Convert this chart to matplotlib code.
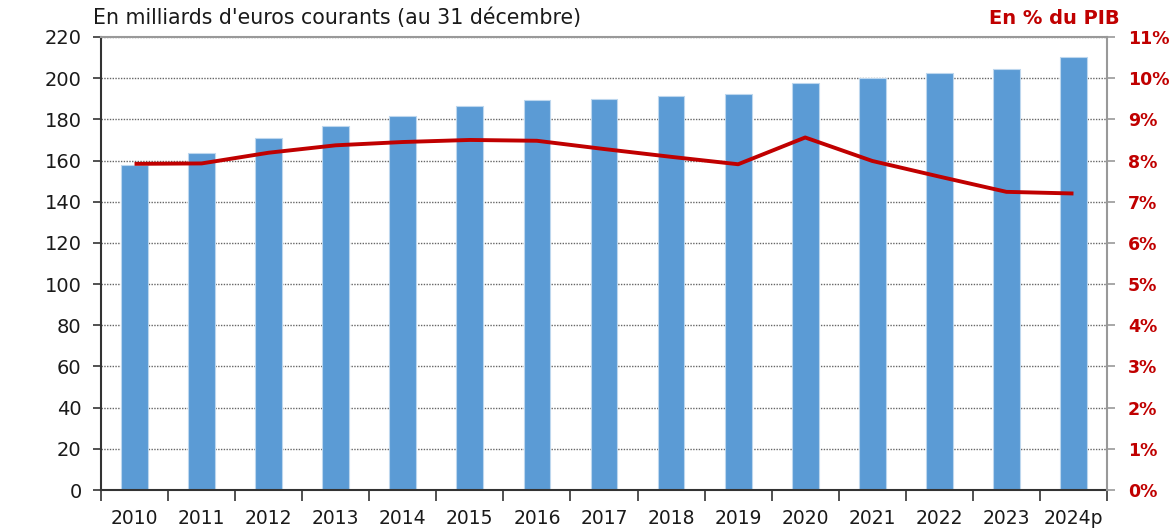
import matplotlib
matplotlib.use("Agg")
import matplotlib.pyplot as plt
import numpy as np
from matplotlib.ticker import FixedLocator, FuncFormatter

years = ["2010", "2011", "2012", "2013", "2014", "2015", "2016", "2017",
         "2018", "2019", "2020", "2021", "2022", "2023", "2024p"]
encours = [157.8, 163.6, 171.1, 176.9, 181.5, 186.5, 189.3, 190.0,
           191.4, 192.3, 197.5, 200.1, 202.4, 204.6, 210.4]
pct_pib = [7.92, 7.93, 8.19, 8.37, 8.45, 8.50, 8.48, 8.28,
           8.09, 7.91, 8.56, 7.99, 7.61, 7.24, 7.20]

plt.rcParams['font.family'] = ['DejaVu Sans']

fig = plt.figure(figsize=(11.7, 5.28), dpi=100)
ax = fig.add_axes([101/1170, 38/528, 1006/1170, 453/528])
x = np.arange(len(years))

ax.bar(x, encours, width=0.40, color="#5B9BD5", edgecolor="#BDD7EE",
       linewidth=0.8, zorder=2)
ax.set_xlim(-0.5, len(years) - 0.5)
ax.set_ylim(0, 220)
ax.set_yticks(np.arange(0, 221, 20))
ax.yaxis.grid(True, linestyle=(0, (1.0, 1.0)), color="#666666", linewidth=1.0, zorder=1)
ax.set_axisbelow(True)

ax.set_xticks(x)
ax.set_xticklabels(years, fontsize=13.5, color="#1a1a1a")
ax.tick_params(axis='x', which='major', length=0, pad=14)
ax.xaxis.set_minor_locator(FixedLocator(np.arange(-0.5, len(years), 1.0)))
ax.tick_params(axis='x', which='minor', length=8, width=1.2, color="#333333")
ax.tick_params(axis='y', labelsize=14, length=6, width=1.2, color="#333333",
               labelcolor="#1a1a1a", pad=8)

for s in ["left", "bottom"]:
    ax.spines[s].set_color("#333333")
    ax.spines[s].set_linewidth(1.5)
ax.spines["top"].set_color("#999999")
ax.spines["top"].set_linewidth(1.5)
ax.spines["right"].set_visible(False)

ax2 = ax.twinx()
ax2.plot(x, pct_pib, color="#C00000", linewidth=2.8, solid_capstyle='butt', zorder=3)
ax2.set_ylim(0, 11)
ax2.set_yticks(np.arange(0, 12, 1))
ax2.yaxis.set_major_formatter(FuncFormatter(lambda v, p: f"{int(v)}%"))
ax2.tick_params(axis='y', labelsize=12.5, length=6, width=1.2, color="#999999",
                labelcolor="#C00000", pad=9)
for lab in ax2.get_yticklabels():
    lab.set_fontweight("bold")
for s in ["left", "bottom", "top"]:
    ax2.spines[s].set_visible(False)
ax2.spines["right"].set_color("#999999")
ax2.spines["right"].set_linewidth(1.5)

fig.text(93/1170, 1 - 18/528, "En milliards d'euros courants (au 31 décembre)",
         fontsize=14.8, color="#1a1a1a", ha="left", va="center")
fig.text(1120/1170, 1 - 18/528, "En % du PIB", fontsize=14, color="#C00000",
         fontweight="bold", ha="right", va="center")

fig.savefig("out.png", dpi=100)
